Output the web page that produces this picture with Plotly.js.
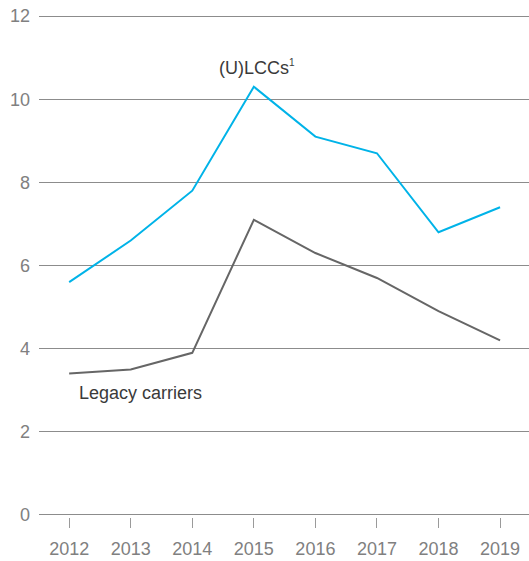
<!DOCTYPE html>
<html>
<head>
<meta charset="utf-8">
<script src="https://cdn.plot.ly/plotly-3.0.1.min.js"></script>
<style>html,body{margin:0;padding:0;background:#fff;}#chart{width:529px;height:561px;}</style>
</head>
<body>
<div id="chart"></div>
<script>
const years = [2012, 2013, 2014, 2015, 2016, 2017, 2018, 2019];
const ulccValues = [5.6, 6.6, 7.8, 10.3, 9.1, 8.7, 6.8, 7.4];
const legacyValues = [3.4, 3.5, 3.9, 7.1, 6.3, 5.7, 4.9, 4.2];
const yTicks = [0, 2, 4, 6, 8, 10, 12];
const ulccLabel = "(U)LCCs<sup><span style=\"font-size:10px\">1</span></sup>";
const legacyLabel = "Legacy carriers";

const traces = [
  {x: years, y: ulccValues, type: 'scatter', mode: 'lines', line: {color: '#00b3e8', width: 2}, hoverinfo: 'skip'},
  {x: years, y: legacyValues, type: 'scatter', mode: 'lines', line: {color: '#666666', width: 2}, hoverinfo: 'skip'}
];

const layout = {
  width: 529, height: 561,
  margin: {l: 39, r: 0, t: 14, b: 44, pad: 0},
  paper_bgcolor: '#fff', plot_bgcolor: '#fff',
  showlegend: false,
  font: {family: 'Liberation Sans, Arial, sans-serif', size: 18, color: '#808080'},
  xaxis: {
    range: [2011.51, 2019.47], tickvals: years, ticktext: years.map(String),
    showgrid: false, zeroline: false, showline: false,
    ticks: 'outside', ticklen: 10, tickcolor: '#9a9a9a', tickwidth: 1,
    ticklabelstandoff: 5,
    tickfont: {size: 18, color: '#808080'}
  },
  yaxis: {
    range: [-0.05, 12.05], tickvals: yTicks,
    showgrid: true, gridcolor: '#8c8c8c', gridwidth: 1,
    zeroline: false, showline: false, ticks: '',
    ticklabelstandoff: 8,
    tickfont: {size: 18, color: '#808080'}
  },
  annotations: [
    {x: 2015.05, y: 10.77, xref: 'x', yref: 'y', text: ulccLabel, showarrow: false, xanchor: 'center', yanchor: 'middle', font: {size: 18, color: '#3a3a3a'}},
    {x: 2012.12, y: 2.93, xref: 'x', yref: 'y', text: legacyLabel, showarrow: false, xanchor: 'left', yanchor: 'middle', font: {size: 18, color: '#3a3a3a'}}
  ]
};

Plotly.newPlot('chart', traces, layout, {staticPlot: true, displayModeBar: false});
</script>
</body>
</html>
